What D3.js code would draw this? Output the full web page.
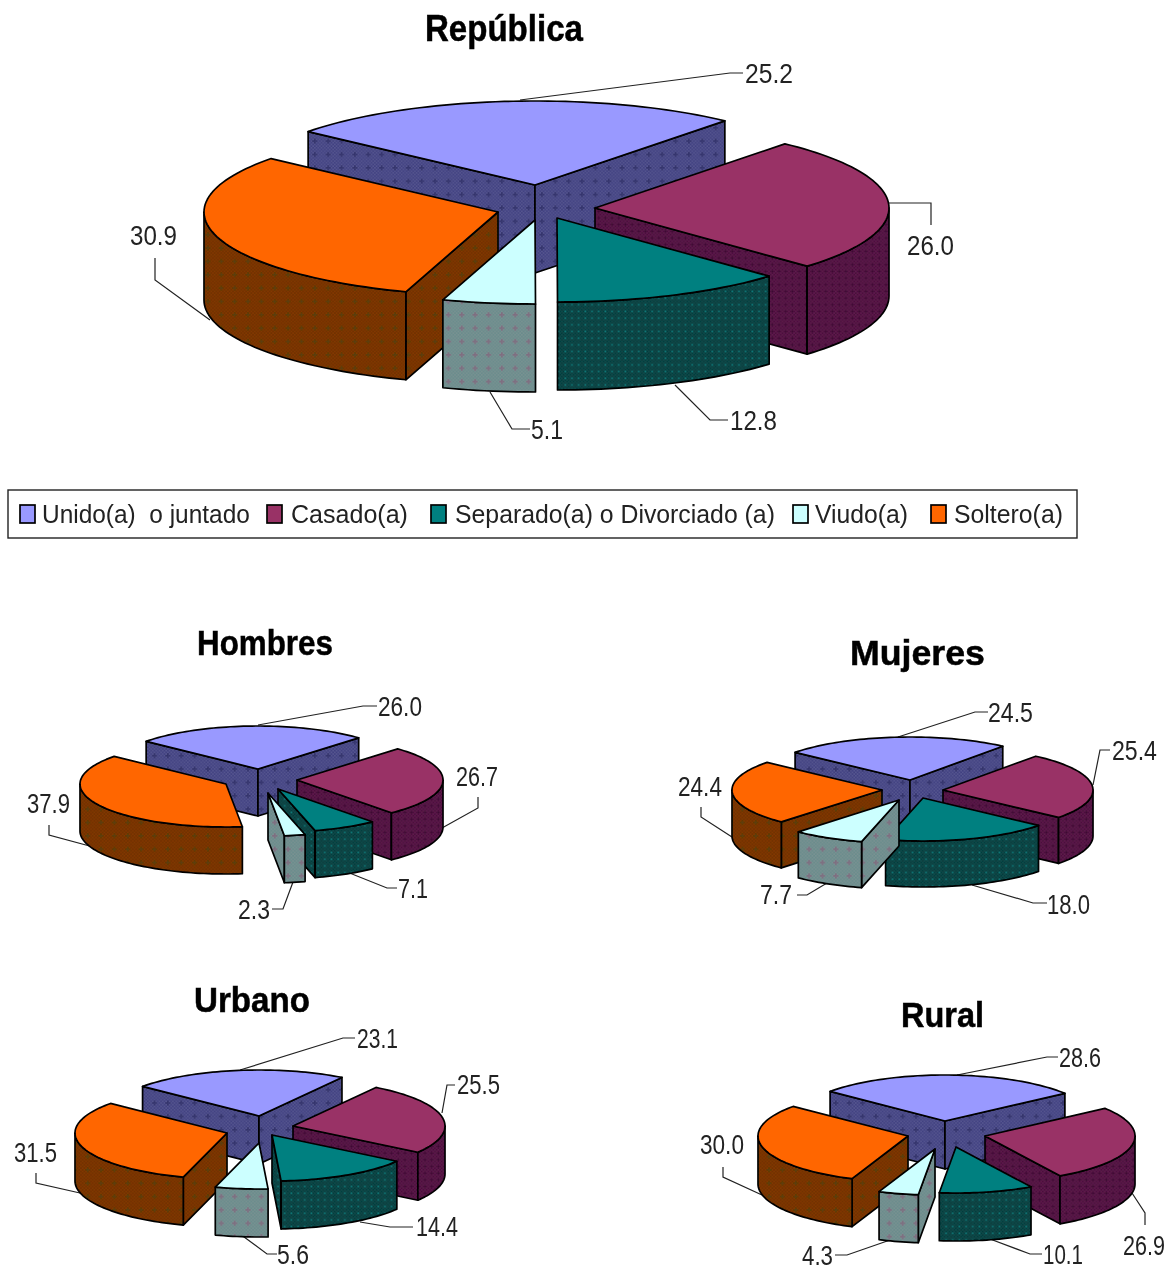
<!DOCTYPE html>
<html><head><meta charset="utf-8">
<script src="https://cdn.jsdelivr.net/npm/d3@7/dist/d3.min.js"></script>
<style>html,body{margin:0;padding:0;background:#fff}svg{display:block}</style>
</head><body><svg id="c" width="1168" height="1270"></svg>
<script>
// ---------- data ----------
const categories = ["Unido(a)  o juntado","Casado(a)","Separado(a) o Divorciado (a)","Viudo(a)","Soltero(a)"];
const republica = [25.2,26.0,12.8,5.1,30.9];
const hombres   = [26.0,26.7,7.1,2.3,37.9];
const mujeres   = [24.5,25.4,18.0,7.7,24.4];
const urbano    = [23.1,25.5,14.4,5.6,31.5];
const rural     = [28.6,26.9,10.1,4.3,30.0];
const topColors  = ["#9999FF","#993366","#008080","#CCFFFF","#FF6600"];
// wall dither: [base, checker, mark]
const wallColors = [["#3f3f80","#575790","#34346c"],["#4a0f3c","#5f1a4c","#3a0a30"],["#053d3d","#0a4a4a","#0e7c7c"],["#688c8c","#7a9292","#806c80"],["#6e3000","#843800","#5a3c08"]];
// wall mark lattice: true = every 4 tile cells (fine dots), false = one cross per tile
const fineMarks = [false,true,true,false,false];

// ---------- layout ----------
const charts = [
 {name:"República",values:republica,rx:294,ry:84,depth:88,startDeg:-50.5,
  title:[425,41,158,36],
  anchors:[[535,185],[595,208],[557,218],[535,220],[498,212]],
  leaders:[[[520,100],[730,73],[743,73]],[[888,203],[931,203],[931,225]],[[675,385],[710,420],[728,420]],[[490,392],[512,429],[530,429]],[[210,320],[155,280],[155,258]]],
  labels:[[745,73,48],[907,245,47],[730,420,47],[531,429,32],[130,235,47]]},
 {name:"Hombres",values:hombres,rx:146,ry:43,depth:47,startDeg:-50,
  title:[197,655,136,35],
  anchors:[[258,769],[297,780],[278,789],[268,793],[226,784]],
  leaders:[[[258,725],[363,706],[377,706]],[[442,828],[478,808],[478,797]],[[347,872],[387,888],[397,888]],[[293,882],[283,909],[272,909]],[[97,848],[49,835],[49,825]]],
  labels:[[378,706,44],[456,776,42],[398,888,30],[238,909,32],[27,803,43]]},
 {name:"Mujeres",values:mujeres,rx:150,ry:43,depth:46,startDeg:-50,
  title:[850,665,135,35],
  anchors:[[910,780],[943,790],[923,798],[899,800],[882,790]],
  leaders:[[[898,737],[975,712],[988,712]],[[1093,785],[1100,750],[1110,750]],[[972,885],[1033,903],[1047,903]],[[827,883],[807,895],[797,895]],[[732,837],[701,817],[701,807]]],
  labels:[[988,712,45],[1112,750,45],[1047,904,43],[760,894,32],[678,786,44]]},
 {name:"Urbano",values:urbano,rx:152,ry:46,depth:48,startDeg:-50,
  title:[194,1012,116,35],
  anchors:[[259,1116],[293,1126],[272,1135],[259,1143],[227,1133]],
  leaders:[[[240,1070],[343,1038],[355,1038]],[[442,1113],[447,1085],[455,1085]],[[360,1222],[390,1227],[413,1227]],[[240,1234],[267,1254],[277,1254]],[[80,1193],[36,1183],[36,1173]]],
  labels:[[357,1038,41],[457,1084,43],[416,1226,42],[277,1254,32],[14,1152,43]]},
 {name:"Rural",values:rural,rx:150,ry:46,depth:48,startDeg:-50,
  title:[901,1027,83,35],
  anchors:[[945,1121],[985,1136],[956,1147],[935,1149],[908,1136]],
  leaders:[[[957,1075],[1047,1057],[1058,1057]],[[1132,1193],[1145,1213],[1145,1225]],[[990,1239],[1030,1254],[1042,1254]],[[893,1239],[847,1255],[835,1255]],[[762,1195],[723,1177],[723,1167]]],
  labels:[[1059,1057,42],[1123,1245,42],[1043,1254,40],[802,1255,31],[700,1144,44]]}
];
const legend = {box:[8,490,1069,48],swatchY:505,swatchW:15,swatchH:18,textY:514,
  swatchX:[20,267,431,793,931],textX:[42,291,455,815,954],textW:[208,117,320,93,109]};
const drawOrder = [0,1,4,2,3];
const FONT = "'Liberation Sans Narrow','Liberation Sans',Arial,sans-serif";
const BOLDFONT = "'Liberation Sans',Arial,sans-serif";
const INK = "#222";

// ---------- drawing ----------
const svg = d3.select("#c");
const defs = svg.append("defs");
defs.append("filter").attr("id","soft").attr("x",0).attr("y",0).attr("width",1).attr("height",1)
  .attr("filterUnits","objectBoundingBox")
  .append("feGaussianBlur").attr("stdDeviation",0.45);

wallColors.forEach((cols,k)=>{
  const p = defs.append("pattern").attr("id","wall"+k).attr("patternUnits","userSpaceOnUse")
    .attr("width",8).attr("height",8).attr("patternTransform","scale(1.67)");
  p.append("rect").attr("width",8).attr("height",8).attr("fill",cols[0]);
  const cell = (i,j,c)=>p.append("rect").attr("x",i).attr("y",j).attr("width",1).attr("height",1).attr("fill",c);
  d3.range(8).forEach(i=>d3.range(8).forEach(j=>{ if((i+j)%2===0) cell(i,j,cols[1]); }));
  const marks = fineMarks[k] ? [[2,2],[6,2],[2,6],[6,6]] : [[3,4],[4,3],[4,4],[5,4],[4,5]];
  marks.forEach(c=>cell(c[0],c[1],cols[2]));
});

const root = svg.append("g").attr("filter","url(#soft)");
root.append("rect").attr("width",1168).attr("height",1270).attr("fill","#fff");

// text squeezed horizontally to the width it has in the reference
function fitText(sel,str,x,y,w,size,weight){
  const bold = weight==="bold";
  const t = sel.append("text").style("white-space","pre")
    .attr("font-family",bold?BOLDFONT:FONT).attr("font-size",size).attr("font-weight",weight).attr("fill",bold?"#000":INK)
    .text(str);
  if(bold) t.attr("stroke","#000").attr("stroke-width",0.5);
  const natural = t.node().getComputedTextLength();
  t.attr("transform","translate("+x+","+y+") scale("+(w/natural)+",1)");
  return t;
}

charts.forEach(ch=>{
  const g = root.append("g");
  const start = ch.startDeg*Math.PI/180;
  const arcs = d3.pie().sort(null).startAngle(start).endAngle(start+2*Math.PI)(ch.values);
  const line = d3.line();

  // leader lines behind the pie
  ch.leaders.forEach(pts=>g.append("path").attr("d",line(pts)).attr("fill","none").attr("stroke","#222").attr("stroke-width",1.2));

  drawOrder.forEach(i=>{
    const a = arcs[i], [ax,ay] = ch.anchors[i];
    const x = d3.scaleLinear([-1,1],[ax-ch.rx,ax+ch.rx]);
    const y = d3.scaleLinear([-1,1],[ay-ch.ry,ay+ch.ry]);
    const pt = (t,dz)=>[x(Math.sin(t)),y(-Math.cos(t))+(dz||0)];
    const samples = (t0,t1,dz)=>{
      const n = Math.max(2,Math.ceil(Math.abs(t1-t0)/0.03));
      return d3.range(n+1).map(k=>pt(t0+(t1-t0)*k/n,dz));
    };
    const sg = g.append("g").attr("stroke","#000").attr("stroke-width",1.7).attr("stroke-linejoin","round");
    const wallFill = "url(#wall"+i+")";
    // radial faces (only those facing the viewer)
    if(Math.cos(a.startAngle-Math.PI/2)<-0.01){
      const e = pt(a.startAngle);
      sg.append("path").attr("d",line([[ax,ay],e,[e[0],e[1]+ch.depth],[ax,ay+ch.depth]])+"Z").attr("fill",wallFill);
    }
    if(Math.cos(a.endAngle+Math.PI/2)<-0.01){
      const e = pt(a.endAngle);
      sg.append("path").attr("d",line([[ax,ay],e,[e[0],e[1]+ch.depth],[ax,ay+ch.depth]])+"Z").attr("fill",wallFill);
    }
    // outer curved wall
    const w0 = Math.max(a.startAngle,Math.PI/2), w1 = Math.min(a.endAngle,3*Math.PI/2);
    if(w1>w0){
      const poly = samples(w0,w1,0).concat(samples(w1,w0,ch.depth));
      sg.append("path").attr("d",line(poly)+"Z").attr("fill",wallFill);
    }
    // top face
    const top = [[ax,ay]].concat(samples(a.startAngle,a.endAngle,0));
    sg.append("path").attr("d",line(top)+"Z").attr("fill",topColors[i]);
  });

  // labels
  ch.values.forEach((v,i)=>{
    const [lx,ly,lw] = ch.labels[i];
    fitText(g,v.toFixed(1),lx,ly+10,lw,27,"normal");
  });
  // title
  fitText(g,ch.name,ch.title[0],ch.title[1],ch.title[2],ch.title[3],"bold");
});

// legend
const lg = root.append("g");
lg.append("rect").attr("x",legend.box[0]).attr("y",legend.box[1]).attr("width",legend.box[2]).attr("height",legend.box[3])
  .attr("fill","#fff").attr("stroke","#222").attr("stroke-width",1.4);
categories.forEach((c,i)=>{
  lg.append("rect").attr("x",legend.swatchX[i]).attr("y",legend.swatchY).attr("width",legend.swatchW).attr("height",legend.swatchH)
    .attr("fill",topColors[i]).attr("stroke","#000").attr("stroke-width",1.7);
  fitText(lg,c,legend.textX[i],legend.textY+9,legend.textW[i],26,"normal");
});
</script></body></html>
